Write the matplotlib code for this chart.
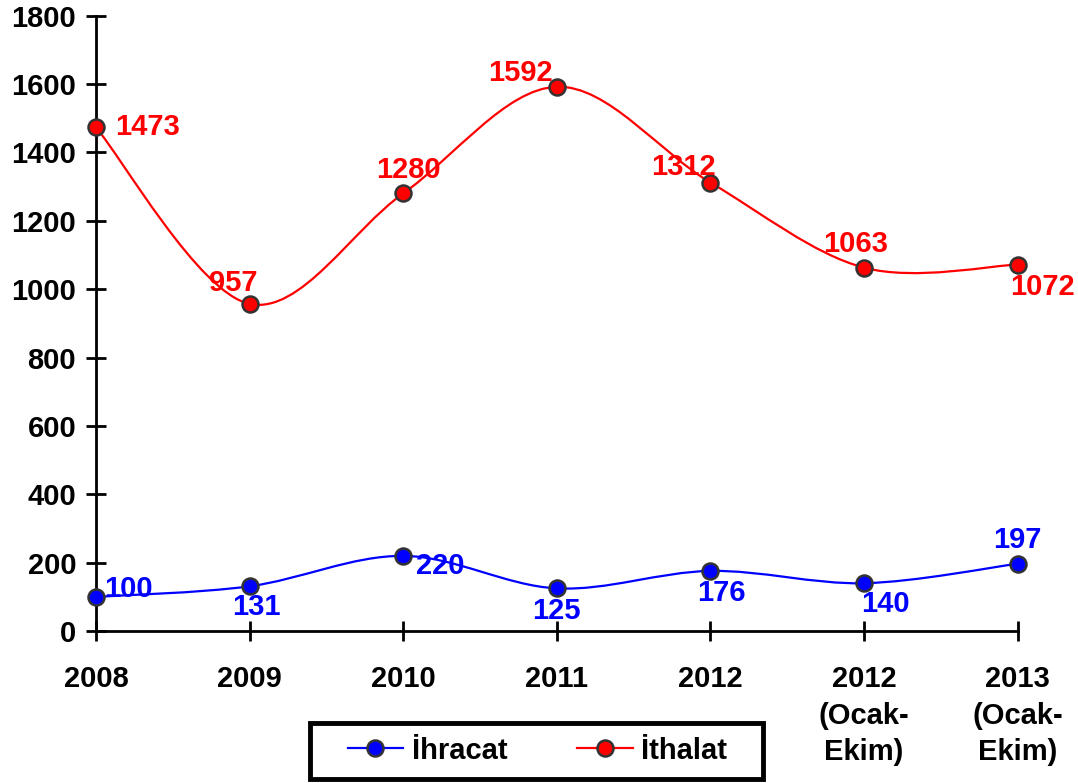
import numpy as np
import matplotlib.pyplot as plt
from matplotlib.path import Path
from matplotlib.patches import PathPatch, Rectangle

plt.rcParams["font.family"] = ["Liberation Sans", "DejaVu Sans"]
plt.rcParams["font.weight"] = "bold"

categories = ["2008", "2009", "2010", "2011", "2012",
              "2012\n(Ocak-\nEkim)", "2013\n(Ocak-\nEkim)"]
ihracat = [100, 131, 220, 125, 176, 140, 197]
ithalat = [1473, 957, 1280, 1592, 1312, 1063, 1072]

# label offsets in points (dx, dy, ha, va)
ihracat_lbl = [(6, 0, "left", "baseline"), (5, -5, "center", "top"),
               (9, 3, "left", "top"), (0, -6, "center", "top"),
               (8, -6, "center", "top"), (-2, -5, "left", "top"),
               (0, 7, "center", "bottom")]
ithalat_lbl = [(14, 0, "left", "center"), (6, 5, "right", "bottom"),
               (4, 7, "center", "bottom"), (-3, 0, "right", "bottom"),
               (4, 1, "right", "bottom"), (-6, 7, "center", "bottom"),
               (18, -6, "center", "top")]


def smooth_path(x, y):
    # Excel style smoothed line: cubic bezier with catmull-rom control points
    x = np.asarray(x, float)
    y = np.asarray(y, float)
    verts = [(x[0], y[0])]
    codes = [Path.MOVETO]
    n = len(x)
    for i in range(n - 1):
        p0 = (x[max(i - 1, 0)], y[max(i - 1, 0)])
        p1 = (x[i], y[i])
        p2 = (x[i + 1], y[i + 1])
        p3 = (x[min(i + 2, n - 1)], y[min(i + 2, n - 1)])
        c1 = (p1[0] + (p2[0] - p0[0]) / 6, p1[1] + (p2[1] - p0[1]) / 6)
        c2 = (p2[0] - (p3[0] - p1[0]) / 6, p2[1] - (p3[1] - p1[1]) / 6)
        verts += [c1, c2, p2]
        codes += [Path.CURVE4] * 3
    return Path(verts, codes)


fig = plt.figure(figsize=(10.78, 7.83), dpi=100)
ax = fig.add_axes([0.089, 0.194, 0.855, 0.786])
xs = np.arange(len(categories))
fs = 21

for vals, color, name, lbls in [(ihracat, "#0000ff", "İhracat", ihracat_lbl),
                                (ithalat, "#ff0000", "İthalat", ithalat_lbl)]:
    ax.add_patch(PathPatch(smooth_path(xs, vals), facecolor="none",
                           edgecolor=color, lw=1.6, zorder=2))
    ax.plot(xs, vals, ls="none", marker="o", ms=11.5, mfc=color,
            mec="#333333", mew=1.8, zorder=3, clip_on=False)
    ax.plot([], [], color=color, lw=1.6, marker="o", ms=11.5, mfc=color,
            mec="#333333", mew=1.8, label=name)
    for xi, v, (dx, dy, ha, va) in zip(xs, vals, lbls):
        ax.annotate(str(v), (xi, v), xytext=(dx, dy), textcoords="offset points",
                    ha=ha, va=va, color=color, fontsize=fs, fontweight="bold",
                    zorder=4)

ax.set_xlim(0, 6)
ax.set_ylim(0, 1800)
ax.set_yticks(range(0, 1801, 200))
ax.set_xticks(xs)
ax.set_xticklabels(categories)
for s in ["top", "right"]:
    ax.spines[s].set_visible(False)
for s in ["left", "bottom"]:
    ax.spines[s].set_linewidth(2)
ax.tick_params(axis="both", direction="inout", length=14.5, width=2,
               labelsize=fs)
ax.tick_params(axis="x", pad=17)
ax.tick_params(axis="y", pad=7)
for t in ax.get_xticklabels() + ax.get_yticklabels():
    t.set_fontweight("bold")
    t.set_linespacing(1.4)

# legend box drawn separately (wide horizontal padding, tight vertical)
fig.patches.append(Rectangle((0.2876, 0.0051), 0.4202, 0.0715,
                             transform=fig.transFigure, facecolor="white",
                             edgecolor="black", lw=3.5, zorder=0))
leg = fig.legend(loc="center", bbox_to_anchor=(0.4986, 0.0415), ncol=2,
                 fontsize=fs, frameon=False, handlelength=1.9,
                 handletextpad=0.3, columnspacing=2.4, borderpad=0.2)
for t in leg.get_texts():
    t.set_fontweight("bold")

fig.savefig("out.png", dpi=100)
